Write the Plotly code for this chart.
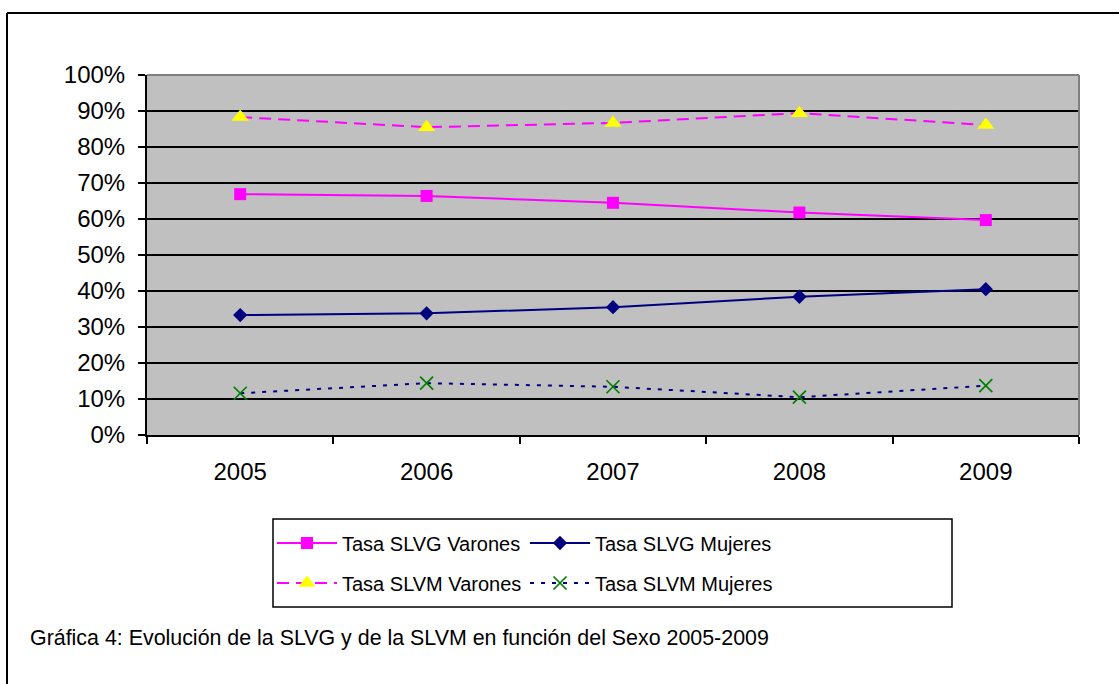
import plotly.graph_objects as go

years = ["2005", "2006", "2007", "2008", "2009"]
slvg_varones = [0.669, 0.664, 0.645, 0.618, 0.597]
slvg_mujeres = [0.333, 0.338, 0.355, 0.384, 0.405]
slvm_varones = [0.883, 0.855, 0.867, 0.894, 0.861]
slvm_mujeres = [0.116, 0.144, 0.134, 0.105, 0.137]

W, H = 1119, 684
L, R, T, B = 147, 1079, 75, 435  # plot area in pixels
FONT = "Arial, Liberation Sans, sans-serif"


def px(x):
    return (x - L) / (R - L)


def py(y):
    return (B - y) / (B - T)


fig = go.Figure()
fig.add_trace(go.Scatter(x=years, y=slvg_varones, name="Tasa SLVG Varones", mode="lines+markers",
                         line=dict(color="#FF00FF", width=2),
                         marker=dict(symbol="square", size=12, color="#FF00FF"), legend="legend"))
fig.add_trace(go.Scatter(x=years, y=slvg_mujeres, name="Tasa SLVG Mujeres", mode="lines+markers",
                         line=dict(color="#000080", width=2),
                         marker=dict(symbol="diamond", size=11, color="#000080"), legend="legend"))
fig.add_trace(go.Scatter(x=years, y=slvm_varones, name="Tasa SLVM Varones", mode="lines+markers",
                         line=dict(color="#FF00FF", width=2, dash="12px,7px"),
                         marker=dict(symbol="triangle-up", size=15, color="#FFFF00"), legend="legend2"))
fig.add_trace(go.Scatter(x=years, y=slvm_mujeres, name="Tasa SLVM Mujeres", mode="lines+markers",
                         line=dict(color="#000080", width=2, dash="4px,7px"),
                         marker=dict(symbol="x-thin-open", size=13, color="#008000",
                                     line=dict(color="#008000", width=1.7)), legend="legend2"))

leg = dict(orientation="h", xref="paper", yref="paper", xanchor="left", yanchor="middle",
           bgcolor="rgba(0,0,0,0)", borderwidth=0, font=dict(family=FONT, size=20, color="black"),
           itemwidth=60, entrywidth=178, entrywidthmode="pixels", tracegroupgap=0)

fig.update_layout(
    width=W, height=H,
    margin=dict(l=L, r=W - R, t=T, b=H - B),
    paper_bgcolor="white", plot_bgcolor="#C0C0C0",
    font=dict(family=FONT, color="black"),
    legend=dict(leg, x=px(272), y=py(543)),
    legend2=dict(leg, x=px(272), y=py(583)),
    xaxis=dict(type="category", range=[-0.5, 4.5], tickson="boundaries", ticks="outside",
               ticklen=7, tickwidth=1.5, tickcolor="black", showgrid=False,
               showline=True, linecolor="black", linewidth=2, zeroline=False,
               tickfont=dict(size=24), ticklabelstandoff=14),
    yaxis=dict(range=[0, 1], dtick=0.1, tickformat=".0%", ticks="outside", ticklen=7,
               tickwidth=1.5, tickcolor="black", showgrid=True, gridcolor="black", gridwidth=1.5,
               showline=True, linecolor="black", linewidth=2, zeroline=False,
               tickfont=dict(size=24), ticklabelstandoff=8),
    shapes=[
        # plot-area top/right border (gray)
        dict(type="line", xref="paper", yref="paper", x0=0, x1=1, y0=1, y1=1,
             line=dict(color="#808080", width=2), layer="above"),
        dict(type="line", xref="paper", yref="paper", x0=1, x1=1, y0=0, y1=1,
             line=dict(color="#808080", width=2), layer="above"),
        # legend frame
        dict(type="rect", xref="paper", yref="paper", x0=px(273), x1=px(952), y0=py(607), y1=py(519),
             line=dict(color="black", width=1.5), fillcolor="rgba(0,0,0,0)"),
        # outer chart frame (cut at right and bottom)
        dict(type="line", xref="paper", yref="paper", x0=px(7), x1=px(1130), y0=py(13), y1=py(13),
             line=dict(color="black", width=2)),
        dict(type="line", xref="paper", yref="paper", x0=px(7), x1=px(7), y0=py(13), y1=py(700),
             line=dict(color="black", width=2)),
    ],
    annotations=[dict(text="Gráfica 4: Evolución de la SLVG y de la SLVM en función del Sexo 2005-2009",
                      xref="paper", yref="paper", x=px(28), y=py(638), xanchor="left", yanchor="middle",
                      showarrow=False, font=dict(family=FONT, size=21.4, color="black"))],
)

fig.write_html("out.html", config={"displayModeBar": False},
               post_script="document.body.style.margin='0';")
